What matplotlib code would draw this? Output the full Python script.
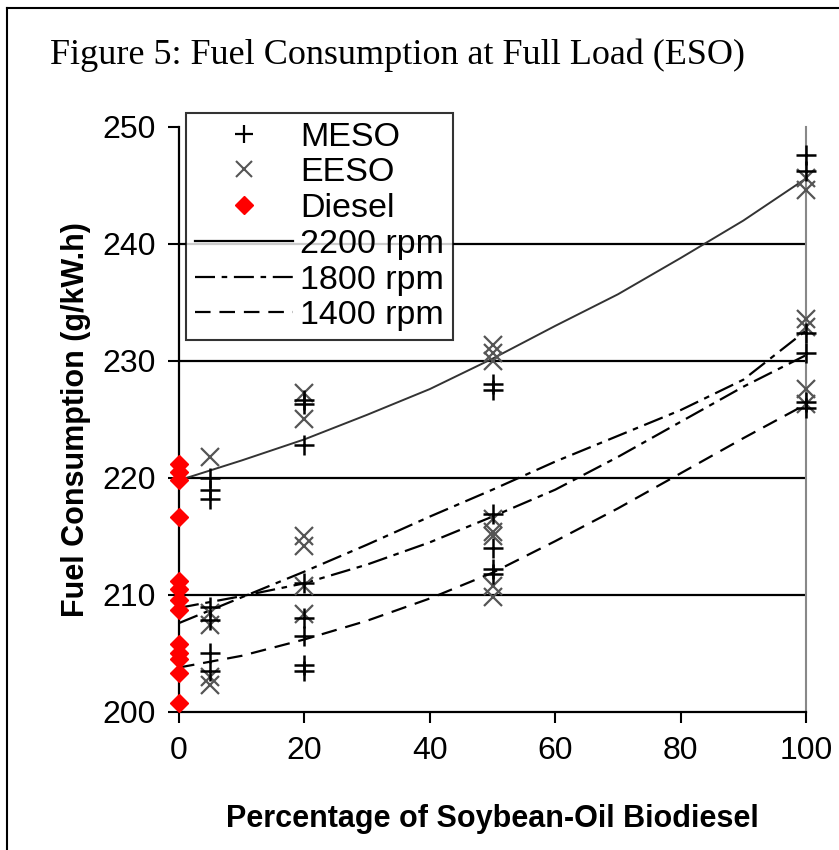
import numpy as np
import matplotlib
matplotlib.use('Agg')
import matplotlib.pyplot as plt
from matplotlib.lines import Line2D

# Data
diesel_x = [0] * 13
diesel_y = [221.2, 220.5, 219.8, 216.7, 211.2, 210.5, 209.6, 208.7, 205.8, 205.0, 204.5, 203.3, 200.8]

meso_x = [5, 5, 5, 5, 5, 5, 5,
          20, 20, 20, 20, 20, 20, 20, 20,
          50, 50, 50, 50, 50, 50,
          100, 100, 100, 100, 100, 100]
meso_y = [220.0, 219.0, 218.2, 209.0, 207.9, 205.0, 203.5,
          226.7, 226.3, 222.8, 211.0, 208.0, 206.5, 204.0, 203.5,
          228.0, 227.5, 216.9, 214.0, 212.2, 211.8,
          247.6, 246.2, 232.4, 230.7, 226.5, 226.0]

eeso_x = [5, 5, 5, 5, 5,
          20, 20, 20, 20, 20, 20,
          50, 50, 50, 50, 50, 50, 50, 50,
          100, 100, 100, 100, 100, 100]
eeso_y = [221.8, 208.5, 207.4, 203.0, 202.3,
          227.3, 225.0, 215.0, 214.2, 210.8, 208.4,
          231.4, 230.7, 230.0, 216.5, 215.4, 215.0, 210.8, 209.8,
          245.6, 244.6, 233.6, 232.9, 227.6, 226.3]

# trend lines
trend_x = [0, 10, 20, 30, 40, 50, 60, 70, 80, 90, 100]
rpm2200 = [219.8, 221.5, 223.3, 225.4, 227.6, 230.2, 233.0, 235.7, 238.8, 242.0, 245.6]
rpm1800a = [207.6, 209.8, 212.0, 214.3, 216.7, 219.0, 221.4, 223.6, 225.8, 228.4, 232.6]
rpm1800b = [208.9, 209.9, 211.0, 212.6, 214.5, 216.7, 219.0, 221.8, 224.8, 227.8, 230.5]
rpm1400 = [203.8, 204.8, 206.2, 207.8, 209.7, 211.9, 214.6, 217.4, 220.4, 223.4, 226.3]

xticks = [0, 20, 40, 60, 80, 100]
yticks = [200, 210, 220, 230, 240, 250]

fig = plt.figure(figsize=(8.39, 8.5), dpi=100)
ax = fig.add_axes([0.2134, 0.1624, 0.7473, 0.6882])

# horizontal grid lines (not at the top)
for yv in yticks[1:-1]:
    ax.axhline(yv, color='black', lw=1.6, zorder=1)

dash_dot = (0, (9, 3, 2.5, 3))
ax.plot(trend_x, rpm2200, color='#333333', lw=1.4, zorder=2)
ax.plot(trend_x, rpm1800a, color='black', lw=1.6, linestyle=dash_dot, zorder=2)
ax.plot(trend_x, rpm1800b, color='black', lw=1.6, linestyle=dash_dot, zorder=2)
ax.plot(trend_x, rpm1400, color='black', lw=1.6, linestyle=(0, (7, 4)), zorder=2)

ax.plot(meso_x, meso_y, linestyle='none', marker='+', ms=14, mew=1.8,
        color='black', clip_on=False, zorder=4)
ax.plot(eeso_x, eeso_y, linestyle='none', marker='x', ms=13, mew=1.6,
        color='#555555', clip_on=False, zorder=3)
ax.plot(diesel_x, diesel_y, linestyle='none', marker='D', ms=9,
        color='red', mec='red', clip_on=False, zorder=5)

ax.set_xlim(0, 100)
ax.set_ylim(200, 250)
ax.set_xticks(xticks)
ax.set_yticks(yticks)
ax.tick_params(axis='both', direction='out', length=8, width=1.5, labelsize=23)
ax.tick_params(axis='y', pad=9)
ax.tick_params(axis='x', pad=9)
for lab in ax.get_xticklabels() + ax.get_yticklabels():
    lab.set_family('Liberation Sans')

ax.spines['top'].set_visible(False)
ax.spines['right'].set_color('#888888')
ax.spines['right'].set_linewidth(1.5)
ax.spines['left'].set_linewidth(1.6)
ax.spines['bottom'].set_linewidth(1.6)

ax.set_xlabel('Percentage of Soybean-Oil Biodiesel', fontsize=22,
              fontweight='bold', family='Liberation Sans', labelpad=28)
ax.set_ylabel('Fuel Consumption (g/kW.h)', fontsize=22,
              fontweight='bold', family='Liberation Sans', labelpad=8)

handles = [
    Line2D([], [], linestyle='none', marker='+', ms=13, mew=1.6, color='black'),
    Line2D([], [], linestyle='none', marker='x', ms=12, mew=1.5, color='#555555'),
    Line2D([], [], linestyle='none', marker='D', ms=9, color='red'),
    Line2D([], [], color='black', lw=1.6),
    Line2D([], [], color='black', lw=1.6, linestyle=dash_dot),
    Line2D([], [], color='black', lw=1.6, linestyle=(0, (7, 4))),
]
labels = ['MESO', 'EESO', 'Diesel', '2200 rpm', '1800 rpm', '1400 rpm']
leg = fig.legend(handles, labels, loc='upper left',
                 bbox_to_anchor=(186 / 839, 1 - 113 / 850),
                 prop={'family': 'Liberation Sans', 'size': 24.5},
                 frameon=True, fancybox=False, edgecolor='black',
                 borderpad=0.25, labelspacing=0.14, handlelength=2.9,
                 handletextpad=0.2, borderaxespad=0)
leg.get_frame().set_linewidth(1.5)

fig.text(50 / 839, 1 - 55 / 850, 'Figure 5: Fuel Consumption at Full Load (ESO)',
         family='Liberation Serif', fontsize=26, va='center', ha='left')

# outer frame of the figure
fig.add_artist(Line2D([7 / 839, 1.0], [1 - 8 / 850, 1 - 8 / 850],
                      transform=fig.transFigure, color='black', lw=1.5))
fig.add_artist(Line2D([7 / 839, 7 / 839], [0, 1 - 8 / 850],
                      transform=fig.transFigure, color='black', lw=1.5))

fig.savefig('out.png', dpi=100)
